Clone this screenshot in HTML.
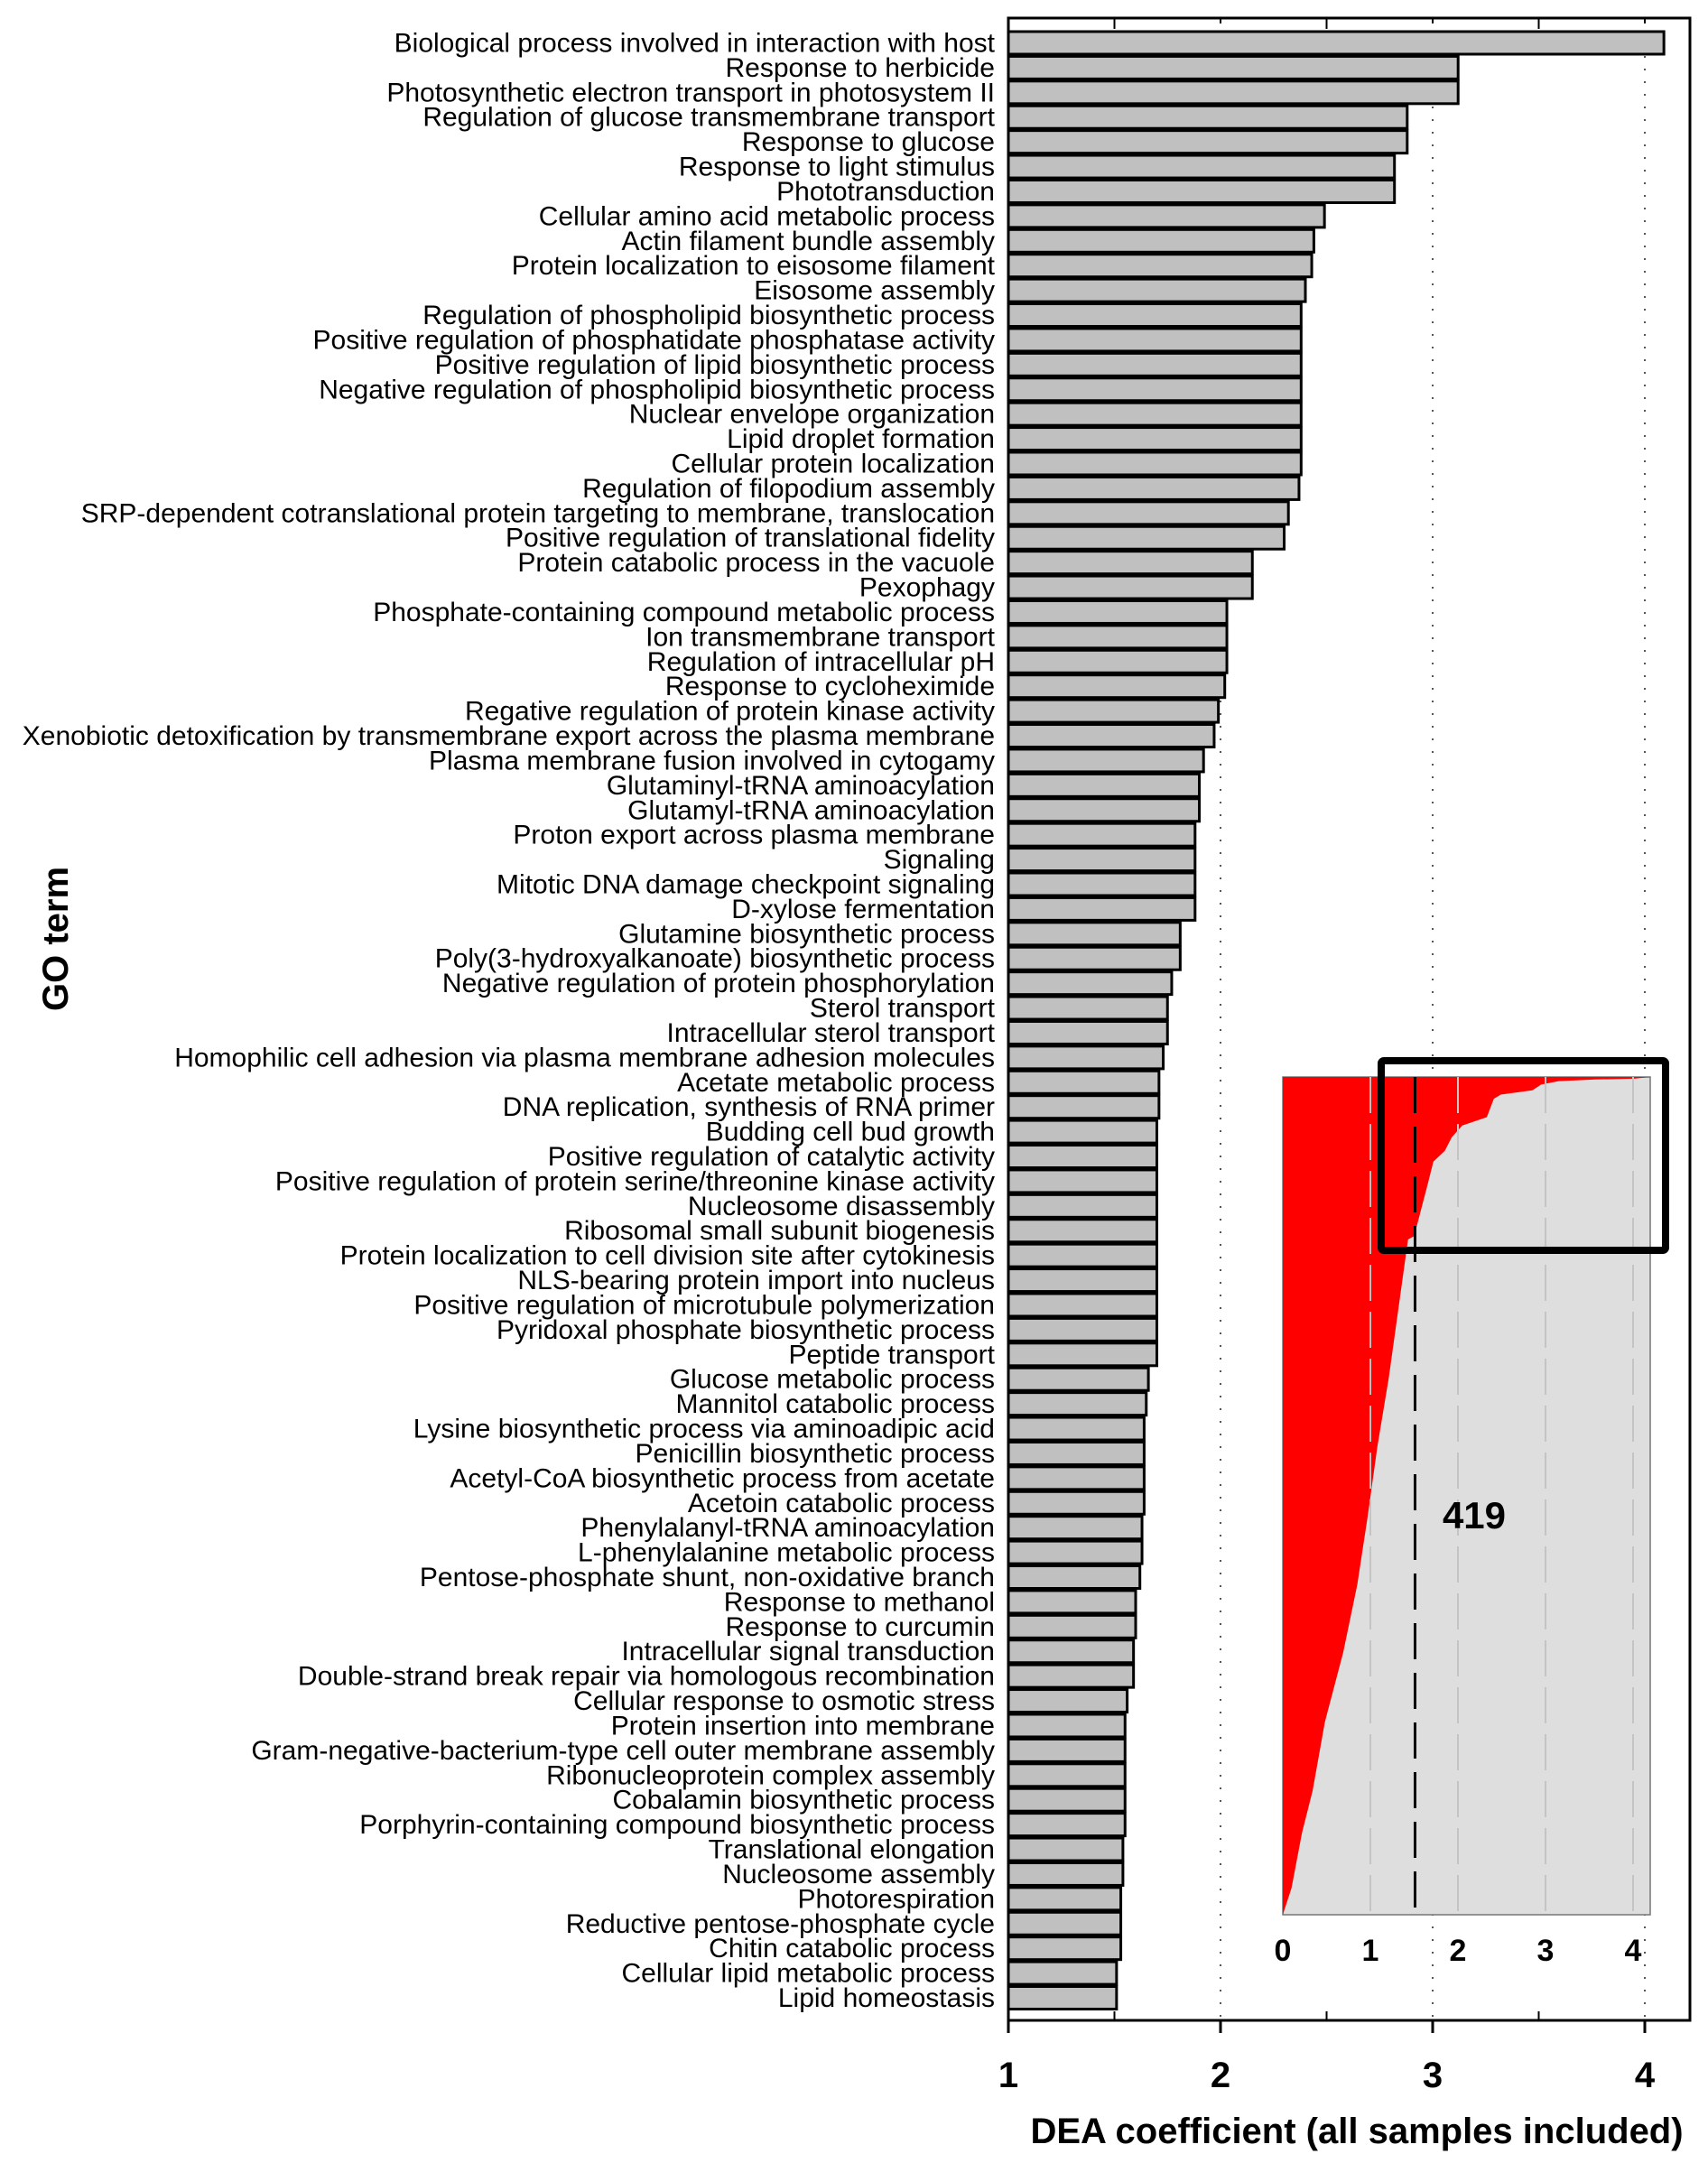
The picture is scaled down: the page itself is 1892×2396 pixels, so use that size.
<!DOCTYPE html>
<html><head><meta charset="utf-8"><style>
html,body{margin:0;padding:0;background:#fff;}
svg{display:block;font-family:"Liberation Sans",Arial,sans-serif;}
</style></head><body>
<svg id="chart" width="1892" height="2396" viewBox="0 0 1892 2396" xmlns="http://www.w3.org/2000/svg"></svg>
<script>
const terms = ["Biological process involved in interaction with host","Response to herbicide","Photosynthetic electron transport in photosystem II","Regulation of glucose transmembrane transport","Response to glucose","Response to light stimulus","Phototransduction","Cellular amino acid metabolic process","Actin filament bundle assembly","Protein localization to eisosome filament","Eisosome assembly","Regulation of phospholipid biosynthetic process","Positive regulation of phosphatidate phosphatase activity","Positive regulation of lipid biosynthetic process","Negative regulation of phospholipid biosynthetic process","Nuclear envelope organization","Lipid droplet formation","Cellular protein localization","Regulation of filopodium assembly","SRP-dependent cotranslational protein targeting to membrane, translocation","Positive regulation of translational fidelity","Protein catabolic process in the vacuole","Pexophagy","Phosphate-containing compound metabolic process","Ion transmembrane transport","Regulation of intracellular pH","Response to cycloheximide","Regative regulation of protein kinase activity","Xenobiotic detoxification by transmembrane export across the plasma membrane","Plasma membrane fusion involved in cytogamy","Glutaminyl-tRNA aminoacylation","Glutamyl-tRNA aminoacylation","Proton export across plasma membrane","Signaling","Mitotic DNA damage checkpoint signaling","D-xylose fermentation","Glutamine biosynthetic process","Poly(3-hydroxyalkanoate) biosynthetic process","Negative regulation of protein phosphorylation","Sterol transport","Intracellular sterol transport","Homophilic cell adhesion via plasma membrane adhesion molecules","Acetate metabolic process","DNA replication, synthesis of RNA primer","Budding cell bud growth","Positive regulation of catalytic activity","Positive regulation of protein serine/threonine kinase activity","Nucleosome disassembly","Ribosomal small subunit biogenesis","Protein localization to cell division site after cytokinesis","NLS-bearing protein import into nucleus","Positive regulation of microtubule polymerization","Pyridoxal phosphate biosynthetic process","Peptide transport","Glucose metabolic process","Mannitol catabolic process","Lysine biosynthetic process via aminoadipic acid","Penicillin biosynthetic process","Acetyl-CoA biosynthetic process from acetate","Acetoin catabolic process","Phenylalanyl-tRNA aminoacylation","L-phenylalanine metabolic process","Pentose-phosphate shunt, non-oxidative branch","Response to methanol","Response to curcumin","Intracellular signal transduction","Double-strand break repair via homologous recombination","Cellular response to osmotic stress","Protein insertion into membrane","Gram-negative-bacterium-type cell outer membrane assembly","Ribonucleoprotein complex assembly","Cobalamin biosynthetic process","Porphyrin-containing compound biosynthetic process","Translational elongation","Nucleosome assembly","Photorespiration","Reductive pentose-phosphate cycle","Chitin catabolic process","Cellular lipid metabolic process","Lipid homeostasis"];
const values = [4.09,3.12,3.12,2.88,2.88,2.82,2.82,2.49,2.44,2.43,2.40,2.38,2.38,2.38,2.38,2.38,2.38,2.38,2.37,2.32,2.30,2.15,2.15,2.03,2.03,2.03,2.02,1.99,1.97,1.92,1.90,1.90,1.88,1.88,1.88,1.88,1.81,1.81,1.77,1.75,1.75,1.73,1.71,1.71,1.70,1.70,1.70,1.70,1.70,1.70,1.70,1.70,1.70,1.70,1.66,1.65,1.64,1.64,1.64,1.64,1.63,1.63,1.62,1.60,1.60,1.59,1.59,1.56,1.55,1.55,1.55,1.55,1.55,1.54,1.54,1.53,1.53,1.53,1.51,1.51];
const xTicks = [1,2,3,4];
const xMinorTicks = [1.5,2,2.5,3,3.5,4];
const insetCoef = [0,0.10,0.22,0.34,0.48,0.69,0.85,0.97,1.08,1.21,1.32,1.43,1.50,1.57,1.66,1.72,1.85,1.93,2.05,2.33,2.41,2.49,2.85,2.95,3.15,3.57,4.01,4.2];
const insetFrac = [0,0.032,0.098,0.148,0.230,0.313,0.394,0.476,0.559,0.641,0.723,0.806,0.810,0.838,0.874,0.899,0.912,0.928,0.942,0.952,0.974,0.979,0.984,0.991,0.995,0.997,0.998,1];
const insetTicks = [0,1,2,3,4];
const insetThreshold = 1.51;
const insetCount = "419";

const NS="http://www.w3.org/2000/svg";
const svg=document.getElementById('chart');
function mk(tag,attrs,parent){const e=document.createElementNS(NS,tag);for(const k in attrs)e.setAttribute(k,attrs[k]);(parent||svg).appendChild(e);return e;}
const L=1117,R=1872,T=20,B=2238;
const x=v=>L+(v-1)*235;
const y0=47.5,step=(2213-47.5)/79;
const yc=i=>y0+i*step;

[2,3,4].forEach(v=>{const g=mk('line',{x1:x(v),x2:x(v),y1:T,y2:B,stroke:'#555','stroke-width':2,'stroke-dasharray':'2 12'});

});

terms.forEach((t,i)=>{
  const r=mk('rect',{x:L,y:yc(i)-12.5,width:x(values[i])-L,height:25,fill:'#c0c0c0',stroke:'#000','stroke-width':3});
  
  
  const tx=mk('text',{x:1102,y:yc(i)+10,'text-anchor':'end','font-size':30,fill:'#000'});
  tx.textContent=t;
  
  
});

const fr=mk('rect',{x:L,y:T,width:R-L,height:B-T,fill:'none',stroke:'#000','stroke-width':3});



xMinorTicks.forEach(v=>{const tk=mk('line',{x1:x(v),x2:x(v),y1:T,y2:T+(v%1?12:6),stroke:'#000','stroke-width':2});


const tb=mk('line',{x1:x(v),x2:x(v),y1:B,y2:B-(v%1?10:0),stroke:'#000','stroke-width':2});

});
xTicks.forEach(v=>{const tk=mk('line',{x1:x(v),x2:x(v),y1:B,y2:B+14,stroke:'#000','stroke-width':3});


const tl=mk('text',{x:x(v),y:2312,'text-anchor':'middle','font-size':40,'font-weight':'bold'});tl.textContent=v;

});

const xt=mk('text',{x:1503,y:2374,'text-anchor':'middle','font-size':40,'font-weight':'bold'});
xt.textContent='DEA coefficient (all samples included)';


const yt=mk('text',{x:0,y:0,'text-anchor':'middle','font-size':40,'font-weight':'bold',transform:'translate(75,1040) rotate(-90)'});
yt.textContent='GO term';



const IL=1421,IR=1828,IT=1193,IB=2121;
const ix=v=>IL+v*97, iy=f=>IB-f*(IB-IT);
const bg=mk('rect',{x:IL,y:IT,width:IR-IL,height:IB-IT,fill:'#dedede',stroke:'#777','stroke-width':1.5});


let d='M'+IL+','+IB;
insetCoef.forEach((c,i)=>{d+=' L'+ix(c).toFixed(1)+','+iy(insetFrac[i]).toFixed(1);});
d+=' L'+IL+','+IT+' Z';
const area=mk('path',{d:d,fill:'#ff0000'});


[1,2,3,4].forEach(v=>{const g=mk('line',{x1:ix(v),x2:ix(v),y1:IT,y2:IB,stroke:'#c4c4c4','stroke-width':2,'stroke-dasharray':'40 12'});

});
const th=mk('line',{x1:ix(insetThreshold),x2:ix(insetThreshold),y1:IT,y2:IB,stroke:'#000','stroke-width':3,'stroke-dasharray':'40 15'});


insetTicks.forEach(v=>{const tl=mk('text',{x:ix(v),y:2172,'text-anchor':'middle','font-size':34,'font-weight':'bold'});tl.textContent=v;

});
const cnt=mk('text',{x:1633,y:1693,'text-anchor':'middle','font-size':42,'font-weight':'bold'});
cnt.textContent=insetCount;


const zb=mk('rect',{x:1530,y:1175,width:315,height:210,fill:'none',stroke:'#000','stroke-width':8,rx:3});


</script>
</body></html>
